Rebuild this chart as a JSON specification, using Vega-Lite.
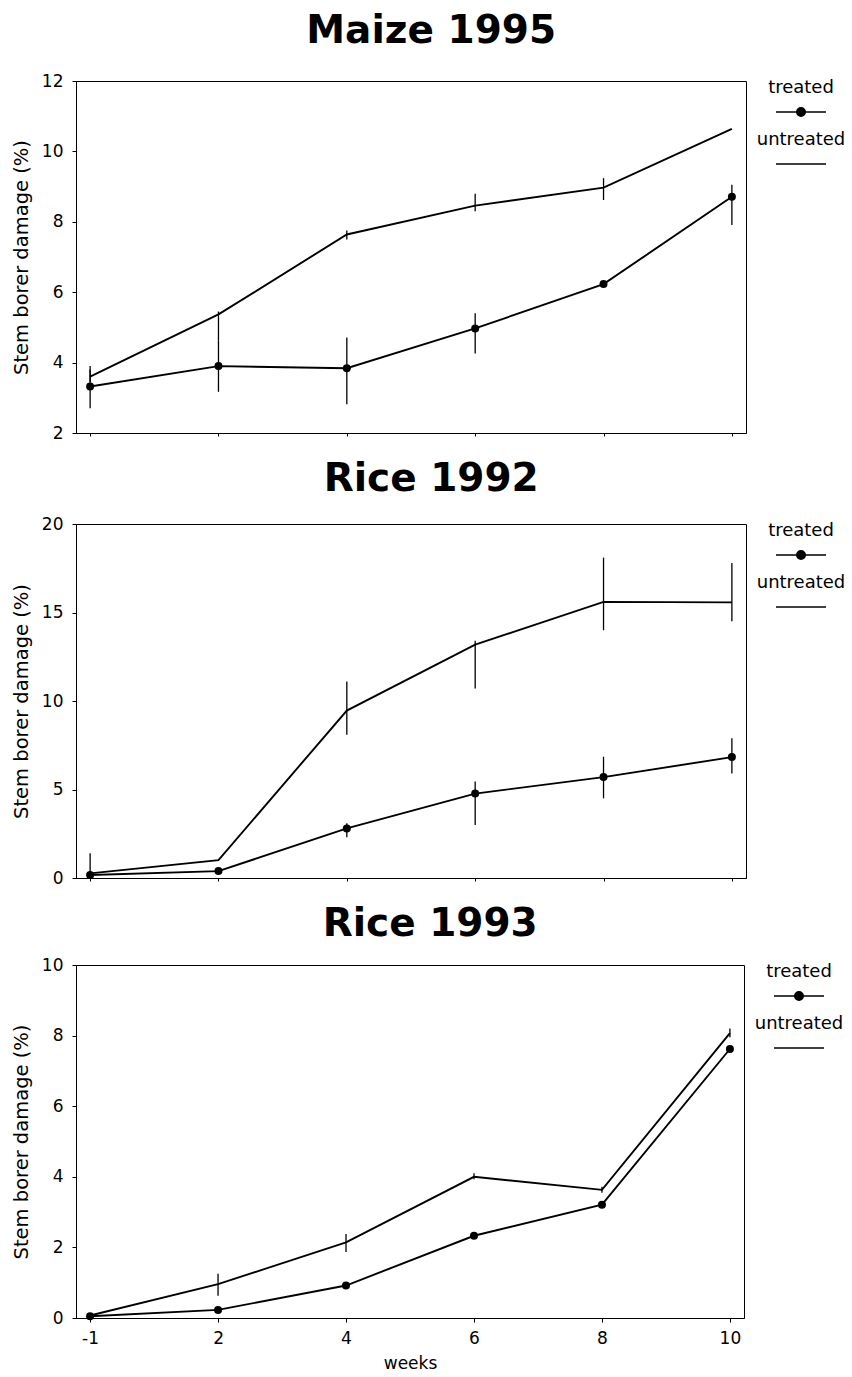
{
  "$schema": "https://vega.github.io/schema/vega-lite/v6.json",
  "background": "white",
  "padding": {"top": 11, "left": 10, "right": 0, "bottom": 0},
  "align": "none",
  "spacing": 17,
  "resolve": {"scale": {"color": "independent", "y": "independent"}, "legend": {"color": "independent"}},
  "datasets": {
    "maize": [
      {"week": -1, "series": "treated", "value": 3.32, "low": 2.7, "high": 3.9},
      {"week": 2, "series": "treated", "value": 3.9, "low": 3.17, "high": 4.62},
      {"week": 4, "series": "treated", "value": 3.84, "low": 2.82, "high": 4.71},
      {"week": 6, "series": "treated", "value": 4.97, "low": 4.26, "high": 5.4},
      {"week": 8, "series": "treated", "value": 6.23},
      {"week": 10, "series": "treated", "value": 8.71, "low": 7.91, "high": 9.05},
      {"week": -1, "series": "untreated", "value": 3.6, "low": 3.45, "high": 3.8},
      {"week": 2, "series": "untreated", "value": 5.37, "low": 4.62, "high": 5.45},
      {"week": 4, "series": "untreated", "value": 7.64, "low": 7.5, "high": 7.75},
      {"week": 6, "series": "untreated", "value": 8.46, "low": 8.3, "high": 8.8},
      {"week": 8, "series": "untreated", "value": 8.97, "low": 8.62, "high": 9.24},
      {"week": 10, "series": "untreated", "value": 10.64}
    ],
    "rice92": [
      {"week": -1, "series": "treated", "value": 0.17},
      {"week": 2, "series": "treated", "value": 0.39},
      {"week": 4, "series": "treated", "value": 2.8, "low": 2.3, "high": 3.1},
      {"week": 6, "series": "treated", "value": 4.77, "low": 3.0, "high": 5.45},
      {"week": 8, "series": "treated", "value": 5.7, "low": 4.5, "high": 6.85},
      {"week": 10, "series": "treated", "value": 6.83, "low": 5.9, "high": 7.9},
      {"week": -1, "series": "untreated", "value": 0.26, "low": 0, "high": 1.4},
      {"week": 2, "series": "untreated", "value": 1.01},
      {"week": 4, "series": "untreated", "value": 9.46, "low": 8.1, "high": 11.1},
      {"week": 6, "series": "untreated", "value": 13.18, "low": 10.7, "high": 13.4},
      {"week": 8, "series": "untreated", "value": 15.6, "low": 14.0, "high": 18.1},
      {"week": 10, "series": "untreated", "value": 15.57, "low": 14.5, "high": 17.8}
    ],
    "rice93": [
      {"week": -1, "series": "treated", "value": 0.05},
      {"week": 2, "series": "treated", "value": 0.23},
      {"week": 4, "series": "treated", "value": 0.92},
      {"week": 6, "series": "treated", "value": 2.33},
      {"week": 8, "series": "treated", "value": 3.21},
      {"week": 10, "series": "treated", "value": 7.62},
      {"week": -1, "series": "untreated", "value": 0.07},
      {"week": 2, "series": "untreated", "value": 0.96, "low": 0.63, "high": 1.25},
      {"week": 4, "series": "untreated", "value": 2.14, "low": 1.87, "high": 2.38},
      {"week": 6, "series": "untreated", "value": 4.0, "low": 3.93, "high": 4.1},
      {"week": 8, "series": "untreated", "value": 3.63, "low": 3.55, "high": 3.72},
      {"week": 10, "series": "untreated", "value": 8.07, "low": 7.95, "high": 8.2}
    ]
  },
  "vconcat": [
    {
      "width": 670,
      "height": 352,
      "title": {"text": "Maize 1995", "offset": 21},
      "data": {"name": "maize"},
      "encoding": {
        "x": {"field": "week", "type": "ordinal", "scale": {"type": "point", "padding": 0.11, "domain": [-1, 2, 4, 6, 8, 10]}, "axis": {"labels": false, "title": null, "tickSize": 3}}
      },
      "layer": [
        {
          "mark": {"type": "line", "strokeWidth": 1.9},
          "encoding": {
            "y": {"field": "value", "type": "quantitative", "title": "Stem borer damage (%)", "scale": {"domain": [2, 12], "nice": false, "zero": false}, "axis": {"values": [2, 4, 6, 8, 10, 12]}},
            "color": {"field": "series", "type": "nominal", "scale": {"domain": ["treated", "untreated"], "range": ["black", "black"]},
              "legend": {"title": null, "encode": {"symbols": {"update": {"shape": {"signal": "datum.value === 'treated' ? 'M-1,0L1,0M0.17,0A0.17,0.17,0,1,1,-0.17,0A0.17,0.17,0,1,1,0.17,0Z' : 'M-1,0L1,0'"}, "fill": {"value": "black"}, "stroke": {"value": "black"}, "strokeWidth": {"value": 1.5}, "size": {"value": 2500}, "opacity": {"value": 1}}}, "labels": {"update": {"dy": {"value": -24}}}}}}
          }
        },
        {
          "transform": [{"filter": "isValid(datum.low)"}],
          "mark": {"type": "rule", "strokeWidth": 1.3, "color": "black"},
          "encoding": {
            "y": {"field": "low", "type": "quantitative", "title": "Stem borer damage (%)", "scale": {"domain": [2, 12], "nice": false, "zero": false}, "axis": {"values": [2, 4, 6, 8, 10, 12]}},
            "y2": {"field": "high"}
          }
        },
        {
          "transform": [{"filter": "datum.series === 'treated'"}],
          "mark": {"type": "point", "filled": true, "size": 64, "color": "black", "opacity": 1},
          "encoding": {
            "y": {"field": "value", "type": "quantitative", "title": "Stem borer damage (%)", "scale": {"domain": [2, 12], "nice": false, "zero": false}, "axis": {"values": [2, 4, 6, 8, 10, 12]}}
          }
        }
      ]
    },
    {
      "width": 670,
      "height": 354,
      "title": {"text": "Rice 1992", "offset": 16},
      "data": {"name": "rice92"},
      "encoding": {
        "x": {"field": "week", "type": "ordinal", "scale": {"type": "point", "padding": 0.11, "domain": [-1, 2, 4, 6, 8, 10]}, "axis": {"labels": false, "title": null, "tickSize": 3}}
      },
      "layer": [
        {
          "mark": {"type": "line", "strokeWidth": 1.9},
          "encoding": {
            "y": {"field": "value", "type": "quantitative", "title": "Stem borer damage (%)", "scale": {"domain": [0, 20], "nice": false}, "axis": {"values": [0, 5, 10, 15, 20]}},
            "color": {"field": "series", "type": "nominal", "scale": {"domain": ["treated", "untreated"], "range": ["black", "black"]},
              "legend": {"title": null, "encode": {"symbols": {"update": {"shape": {"signal": "datum.value === 'treated' ? 'M-1,0L1,0M0.17,0A0.17,0.17,0,1,1,-0.17,0A0.17,0.17,0,1,1,0.17,0Z' : 'M-1,0L1,0'"}, "fill": {"value": "black"}, "stroke": {"value": "black"}, "strokeWidth": {"value": 1.5}, "size": {"value": 2500}, "opacity": {"value": 1}}}, "labels": {"update": {"dy": {"value": -24}}}}}}
          }
        },
        {
          "transform": [{"filter": "isValid(datum.low)"}],
          "mark": {"type": "rule", "strokeWidth": 1.3, "color": "black"},
          "encoding": {
            "y": {"field": "low", "type": "quantitative", "title": "Stem borer damage (%)", "scale": {"domain": [0, 20], "nice": false}, "axis": {"values": [0, 5, 10, 15, 20]}},
            "y2": {"field": "high"}
          }
        },
        {
          "transform": [{"filter": "datum.series === 'treated'"}],
          "mark": {"type": "point", "filled": true, "size": 64, "color": "black", "opacity": 1},
          "encoding": {
            "y": {"field": "value", "type": "quantitative", "title": "Stem borer damage (%)", "scale": {"domain": [0, 20], "nice": false}, "axis": {"values": [0, 5, 10, 15, 20]}}
          }
        }
      ]
    },
    {
      "width": 668,
      "height": 353,
      "title": {"text": "Rice 1993", "offset": 12},
      "data": {"name": "rice93"},
      "encoding": {
        "x": {"field": "week", "type": "ordinal", "title": "weeks", "scale": {"type": "point", "padding": 0.11, "domain": [-1, 2, 4, 6, 8, 10]}, "axis": {"labelAngle": 0, "tickSize": 4, "labelPadding": 8, "titleFontSize": 17, "titlePadding": 9}}
      },
      "layer": [
        {
          "mark": {"type": "line", "strokeWidth": 1.9},
          "encoding": {
            "y": {"field": "value", "type": "quantitative", "title": "Stem borer damage (%)", "scale": {"domain": [0, 10], "nice": false}, "axis": {"values": [0, 2, 4, 6, 8, 10]}},
            "color": {"field": "series", "type": "nominal", "scale": {"domain": ["treated", "untreated"], "range": ["black", "black"]},
              "legend": {"title": null, "encode": {"symbols": {"update": {"shape": {"signal": "datum.value === 'treated' ? 'M-1,0L1,0M0.17,0A0.17,0.17,0,1,1,-0.17,0A0.17,0.17,0,1,1,0.17,0Z' : 'M-1,0L1,0'"}, "fill": {"value": "black"}, "stroke": {"value": "black"}, "strokeWidth": {"value": 1.5}, "size": {"value": 2500}, "opacity": {"value": 1}}}, "labels": {"update": {"dy": {"value": -24}}}}}}
          }
        },
        {
          "transform": [{"filter": "isValid(datum.low)"}],
          "mark": {"type": "rule", "strokeWidth": 1.3, "color": "black"},
          "encoding": {
            "y": {"field": "low", "type": "quantitative", "title": "Stem borer damage (%)", "scale": {"domain": [0, 10], "nice": false}, "axis": {"values": [0, 2, 4, 6, 8, 10]}},
            "y2": {"field": "high"}
          }
        },
        {
          "transform": [{"filter": "datum.series === 'treated'"}],
          "mark": {"type": "point", "filled": true, "size": 64, "color": "black", "opacity": 1},
          "encoding": {
            "y": {"field": "value", "type": "quantitative", "title": "Stem borer damage (%)", "scale": {"domain": [0, 10], "nice": false}, "axis": {"values": [0, 2, 4, 6, 8, 10]}}
          }
        }
      ]
    }
  ],
  "config": {
    "font": "DejaVu Sans",
    "view": {"stroke": "black", "strokeWidth": 1},
    "axisY": {"titlePadding": 10, "labelPadding": 9},
    "axis": {"grid": false, "domainColor": "black", "domainWidth": 1, "tickColor": "black", "tickSize": 4, "labelColor": "black", "titleColor": "black", "labelFont": "DejaVu Sans", "titleFont": "DejaVu Sans", "labelFontSize": 17, "titleFontSize": 19.5, "titleFontWeight": "normal"},
    "legend": {"orient": "right", "offset": 24, "padding": 5, "labelFont": "DejaVu Sans", "labelFontSize": 18, "labelColor": "black", "labelAlign": "center", "labelOffset": -26, "labelBaseline": "middle", "symbolSize": 2500, "symbolStrokeWidth": 1.5, "rowPadding": 11},
    "title": {"font": "DejaVu Sans", "fontSize": 39, "fontWeight": "bold", "color": "black", "anchor": "middle", "frame": "bounds"}
  }
}
